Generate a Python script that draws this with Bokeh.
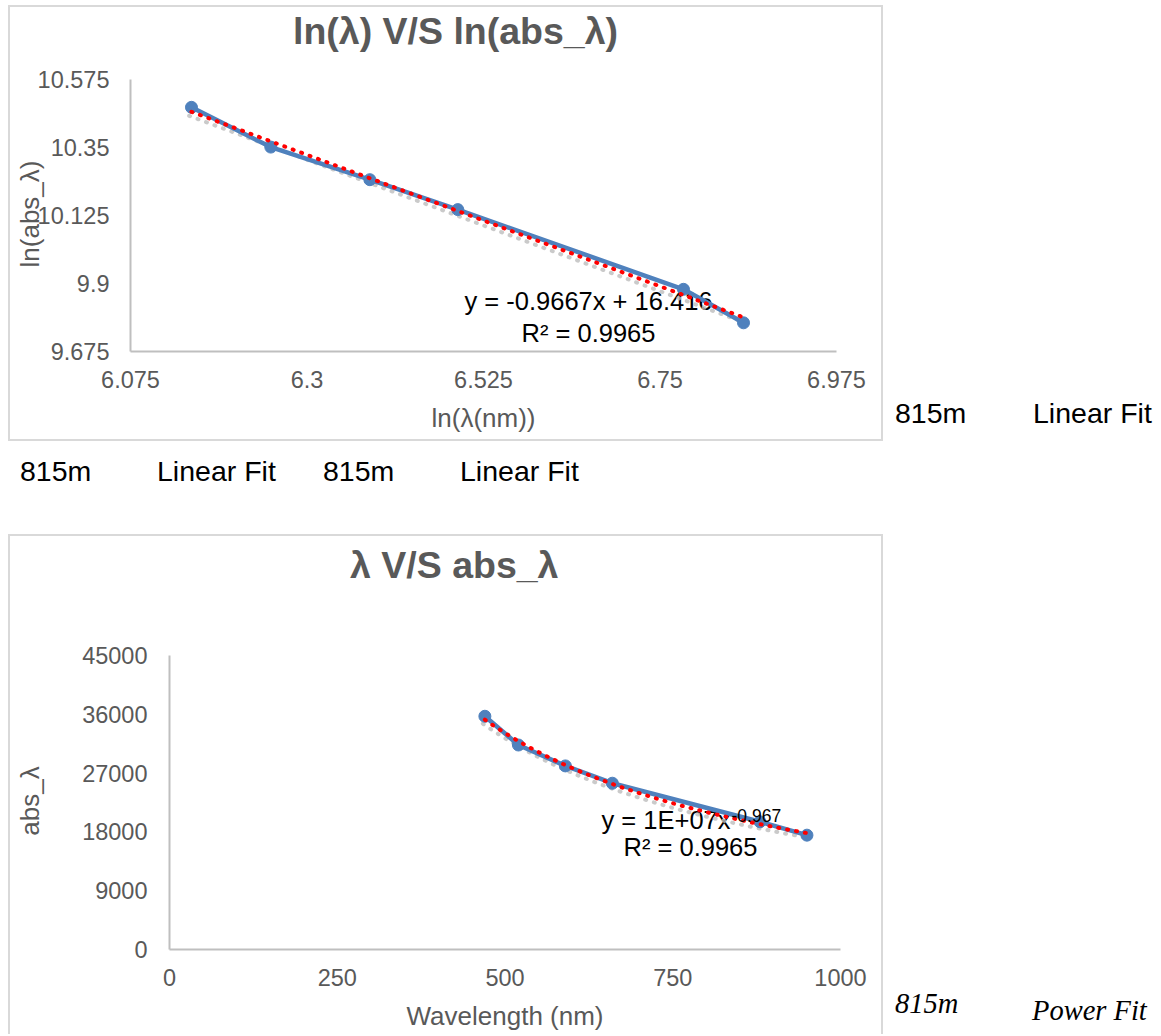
import numpy as np
from bokeh.plotting import figure
from bokeh.models import Range1d, FixedTicker, Label, Div
from bokeh.layouts import column, row
from bokeh.embed import file_html
from bokeh.resources import INLINE

# measured absorption against wavelength
wavelength_nm = [470, 520, 590, 660, 880, 950]
abs_lambda = [35700, 31300, 28100, 25450, 19550, 17500]

# least-squares fit of ln(abs) on ln(lambda)
fit_slope = -0.9667
fit_intercept = 16.416
fit_r2 = 0.9965

log_x_ticks = [6.075, 6.3, 6.525, 6.75, 6.975]
log_x_labels = ["6.075", "6.3", "6.525", "6.75", "6.975"]
log_y_ticks = [9.675, 9.9, 10.125, 10.35, 10.575]
log_y_labels = ["9.675", "9.9", "10.125", "10.35", "10.575"]

lin_x_ticks = [0, 250, 500, 750, 1000]
lin_x_labels = ["0", "250", "500", "750", "1000"]
lin_y_ticks = [0, 9000, 18000, 27000, 36000, 45000]
lin_y_labels = ["0", "9000", "18000", "27000", "36000", "45000"]

title_log = "ln(λ) V/S ln(abs_λ)"
title_lin = "λ V/S abs_λ"
ylabel_log = "ln(abs_λ)"
ylabel_lin = "abs_λ"
note_sample = "815m"
note_linear = "Linear Fit"
note_power = "Power Fit"

SANS = "Liberation Sans"
SERIF = "Liberation Serif"
GREY_TEXT = "#595959"
AXIS_GREY = "#BFBFBF"
BORDER = "2px solid #D9D9D9"
SERIES_BLUE = "#4F81BD"
FIT_RED = "#FF0000"
SHADOW = "#BDBDBD"


def style_axes(p, xt, xl, yt, yl, ytick_standoff):
    p.xaxis.ticker = FixedTicker(ticks=xt)
    p.yaxis.ticker = FixedTicker(ticks=yt)
    p.xaxis.major_label_overrides = dict(zip(xt, xl))
    p.yaxis.major_label_overrides = dict(zip(yt, yl))
    for ax in (p.xaxis[0], p.yaxis[0]):
        ax.axis_line_color = AXIS_GREY
        ax.axis_line_width = 2
        ax.major_tick_line_color = None
        ax.minor_tick_line_color = None
        ax.major_label_text_font = SANS
        ax.major_label_text_font_size = "23.5px"
        ax.major_label_text_color = GREY_TEXT
        ax.axis_label_text_font = SANS
        ax.axis_label_text_font_size = "26px"
        ax.axis_label_text_font_style = "normal"
        ax.axis_label_text_color = GREY_TEXT
    p.xaxis.major_label_standoff = 13
    p.xaxis.axis_label_standoff = 12
    p.yaxis.major_label_standoff = ytick_standoff
    p.xgrid.visible = False
    p.ygrid.visible = False
    p.outline_line_color = None
    p.background_fill_color = "white"
    p.border_fill_color = "white"


def put_text(p, x, y, s, size, align="center", level="underlay"):
    p.add_layout(Label(x=x, y=y, x_units="screen", y_units="screen", text=s,
                       text_font=SANS, text_font_size=size, text_color="black",
                       text_align=align, text_baseline="alphabetic", level=level))


def span(t, x, y, font=SANS, size="28.5px", style="normal", weight="normal",
         color="#000", extra=""):
    return (f'<span style="position:absolute;left:{x}px;top:{y}px;white-space:nowrap;'
            f'font-family:\'{font}\';font-size:{size};font-style:{style};'
            f'font-weight:{weight};line-height:1;color:{color};{extra}">{t}</span>')


def rotated(t, cx, cy):
    # vertical axis caption, centred on (cx, cy), reading bottom to top
    return span(t, cx, cy, size="26px", color=GREY_TEXT,
                extra="transform:translate(-50%,-50%) rotate(-90deg);")


def note_div(width, height, spans):
    html = (f'<div style="position:relative;width:{width}px;height:{height}px;'
            f'overflow:visible">{"".join(spans)}</div>')
    return Div(text=html, width=width, height=height, margin=0,
               styles={"overflow": "visible", "z-index": "5"})


def shadow_offset(rng, frame_px, px=4):
    return (rng.end - rng.start) / frame_px * px


# ---------- ln(lambda) vs ln(abs_lambda) ----------
lx = np.log(wavelength_nm)
ly = np.log(abs_lambda)

p1 = figure(width=875, height=436, output_backend="svg", toolbar_location=None,
            x_range=Range1d(log_x_ticks[0], log_x_ticks[-1]),
            y_range=Range1d(log_y_ticks[0], log_y_ticks[-1]),
            min_border_left=120, min_border_right=49,
            min_border_top=72, min_border_bottom=92,
            x_axis_label="ln(λ(nm))")
p1.margin = (5, 0, 0, 8)
p1.styles = {"border": BORDER}
style_axes(p1, log_x_ticks, log_x_labels, log_y_ticks, log_y_labels, 15)

fx = np.array([lx.min(), lx.max()])
fy = fit_intercept + fit_slope * fx
d1 = shadow_offset(p1.y_range, 272)
p1.line(fx - 0.003, fy - d1, line_color=SHADOW, line_width=4, line_dash="1 8",
        line_cap="round", line_alpha=0.8)
p1.line(lx, ly, line_color=SERIES_BLUE, line_width=4.5)
p1.scatter(lx, ly, size=12, fill_color=SERIES_BLUE, line_color=SERIES_BLUE)
p1.line(fx, fy, line_color=FIT_RED, line_width=4, line_dash="1 8", line_cap="round")

put_text(p1, 458, 51, f"y = {fit_slope}x + {fit_intercept}", "25.5px")
put_text(p1, 458, 19, f"R² = {fit_r2}", "25.5px")

# ---------- lambda vs abs_lambda ----------
p2 = figure(width=875, height=500, output_backend="svg", toolbar_location=None,
            x_range=Range1d(lin_x_ticks[0], lin_x_ticks[-1]),
            y_range=Range1d(lin_y_ticks[0], lin_y_ticks[-1]),
            min_border_left=159, min_border_right=45,
            min_border_top=119, min_border_bottom=87,
            x_axis_label="Wavelength (nm)")
p2.margin = (0, 0, 0, 8)
p2.styles = {"border": BORDER, "border-bottom-width": "0px"}
style_axes(p2, lin_x_ticks, lin_x_labels, lin_y_ticks, lin_y_labels, 16)

px = np.linspace(min(wavelength_nm), max(wavelength_nm), 80)
py = np.exp(fit_intercept) * px ** fit_slope
d2 = shadow_offset(p2.y_range, 294)
p2.line(px - 3, py - d2, line_color=SHADOW, line_width=4, line_dash="1 8",
        line_cap="round", line_alpha=0.8)
p2.line(wavelength_nm, abs_lambda, line_color=SERIES_BLUE, line_width=4.5)
p2.scatter(wavelength_nm, abs_lambda, size=12, fill_color=SERIES_BLUE, line_color=SERIES_BLUE)
p2.line(px, py, line_color=FIT_RED, line_width=4, line_dash="1 8", line_cap="round")

put_text(p2, 561, 130, "y = 1E+07x", "25.5px", align="right")
put_text(p2, 562, 134, f"{round(fit_slope, 3)}", "17.5px", align="left", level="annotation")
put_text(p2, 521, 103, f"R² = {fit_r2}", "25.5px")

# ---------- captions and free-standing notes (positions relative to each box) ----------
right_top = note_div(278, 441, [
    span(title_log, -590, 13, size="37.5px", weight="bold", color=GREY_TEXT),
    rotated(ylabel_log, -853, 214),
    span(note_sample, 12, 399),
    span(note_linear, 150, 399),
])
middle = note_div(1161, 93, [
    span(note_sample, 20, 16),
    span(note_linear, 157, 16),
    span(note_sample, 323, 16),
    span(note_linear, 460, 16),
])
right_bottom = note_div(278, 502, [
    span(title_lin, -533, 13, size="37.5px", weight="bold", color=GREY_TEXT),
    rotated(ylabel_lin, -853, 267),
    span(note_sample, 12, 456, font=SERIF, style="italic"),
    span(note_power, 149, 463, font=SERIF, style="italic"),
])

layout = column(row(p1, right_top), middle, row(p2, right_bottom))
open("out.html", "w").write(file_html(layout, INLINE))
